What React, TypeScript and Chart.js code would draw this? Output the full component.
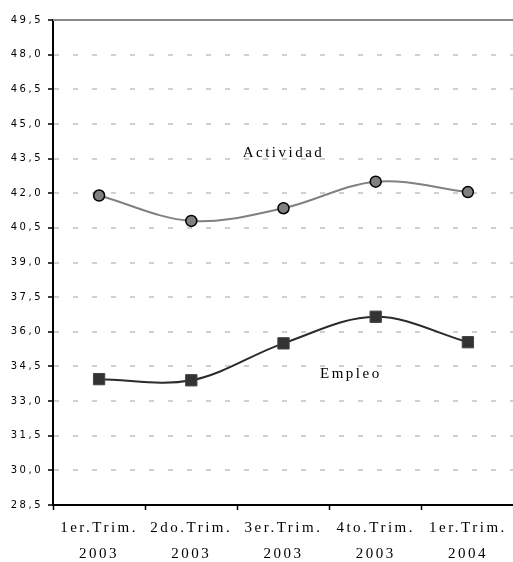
import { useEffect, useRef } from 'react';
import { Chart, registerables } from 'chart.js';

Chart.register(...registerables);

const categories: string[][] = [
  ['1er.Trim.', '2003'],
  ['2do.Trim.', '2003'],
  ['3er.Trim.', '2003'],
  ['4to.Trim.', '2003'],
  ['1er.Trim.', '2004'],
];
const actividad = [41.9, 40.8, 41.35, 42.5, 42.05];
const empleo = [33.95, 33.9, 35.5, 36.65, 35.55];
const seriesNames = ['Actividad', 'Empleo'];
const yMin = 28.5;
const yMax = 49.5;
const yStep = 1.5;
// label anchors in data coordinates (category index, value)
const labelAnchorX = [2, 2.73];
const labelAnchorY = [43.75, 34.15];

const W = 514;
const H = 562;

function patchLabels(scale: any, spacing: string) {
  const proto = Object.getPrototypeOf(scale);
  scale.drawLabels = function (area: any) {
    const ctx = this.ctx;
    ctx.save();
    (ctx as any).letterSpacing = spacing;
    proto.drawLabels.call(this, area);
    ctx.restore();
  };
}

const customPlugin = {
  id: 'custom',
  afterUpdate(chart: any) {
    patchLabels(chart.scales.x, '2.5px');
    patchLabels(chart.scales.y, '2.5px');
  },
  beforeDatasetsDraw(chart: any) {
    const { ctx, chartArea } = chart;
    ctx.save();
    ctx.strokeStyle = '#888888';
    ctx.lineWidth = 2;
    ctx.beginPath();
    ctx.moveTo(chartArea.left, chartArea.top);
    ctx.lineTo(chartArea.right, chartArea.top);
    ctx.stroke();
    ctx.restore();
  },
  afterDraw(chart: any) {
    const { ctx, scales } = chart;
    ctx.save();
    ctx.font = '15px "Liberation Serif", serif';
    ctx.fillStyle = '#000000';
    ctx.textAlign = 'center';
    ctx.textBaseline = 'middle';
    (ctx as any).letterSpacing = '2.5px';
    seriesNames.forEach((name, i) => {
      ctx.fillText(name, scales.x.getPixelForValue(labelAnchorX[i]), scales.y.getPixelForValue(labelAnchorY[i]));
    });
    ctx.restore();
  },
};

export default function App() {
  const ref = useRef<HTMLCanvasElement>(null);
  useEffect(() => {
    const canvas = ref.current!;
    const chart = new Chart(canvas, {
      type: 'line',
      data: {
        labels: categories,
        datasets: [
          {
            label: seriesNames[0],
            data: actividad,
            borderColor: '#808080',
            borderWidth: 2,
            backgroundColor: '#808080',
            pointBackgroundColor: '#808080',
            pointBorderColor: '#000000',
            pointBorderWidth: 1.5,
            pointRadius: 5.5,
            pointStyle: 'circle',
            tension: 0.35,
          },
          {
            label: seriesNames[1],
            data: empleo,
            borderColor: '#2b2b2b',
            borderWidth: 2,
            backgroundColor: '#333333',
            pointBackgroundColor: '#333333',
            pointBorderColor: '#444444',
            pointBorderWidth: 1,
            pointRadius: 8,
            pointStyle: 'rect',
            tension: 0.35,
          },
        ],
      },
      options: {
        responsive: false,
        animation: false,
        layout: { autoPadding: false, padding: { top: 20, left: 0, right: 0, bottom: 0 } },
        plugins: {
          legend: { display: false },
          tooltip: { enabled: false },
        },
        scales: {
          x: {
            offset: true,
            grid: {
              offset: true,
              drawOnChartArea: false,
              drawTicks: true,
              tickLength: 5,
              tickColor: '#000000',
              tickWidth: 1.5,
            },
            border: { color: '#000000', width: 2 },
            ticks: {
              autoSkip: false,
              maxRotation: 0,
              minRotation: 0,
              padding: 5,
              color: '#000000',
              font: { family: '"Liberation Serif", serif', size: 15, lineHeight: '26px' },
            },
            afterFit(scale: any) {
              scale.height = 57;
              scale.paddingLeft = 0;
              scale.paddingRight = 0;
            },
          },
          y: {
            min: yMin,
            max: yMax,
            grid: {
              color: '#d0d0d0',
              lineWidth: 2,
              drawTicks: true,
              tickLength: 5,
              tickColor: '#000000',
              tickWidth: 1.5,
            },
            border: { color: '#000000', width: 2, dash: [5, 14] },
            ticks: {
              stepSize: yStep,
              padding: 5,
              color: '#000000',
              font: { family: '"DejaVu Sans", sans-serif', size: 10 },
              callback: (v: any) => Number(v).toFixed(1).replace('.', ','),
            },
            afterFit(scale: any) {
              scale.width = 53;
              scale.paddingTop = 0;
              scale.paddingBottom = 0;
            },
          },
        },
      },
      plugins: [customPlugin],
    });
    return () => chart.destroy();
  }, []);
  return (
    <div style={{ position: 'fixed', left: 0, top: 0, width: 513, height: 562, overflow: 'hidden', background: '#fff' }}>
      <canvas ref={ref} width={W} height={H} style={{ display: 'block', width: W, height: H }} />
    </div>
  );
}
